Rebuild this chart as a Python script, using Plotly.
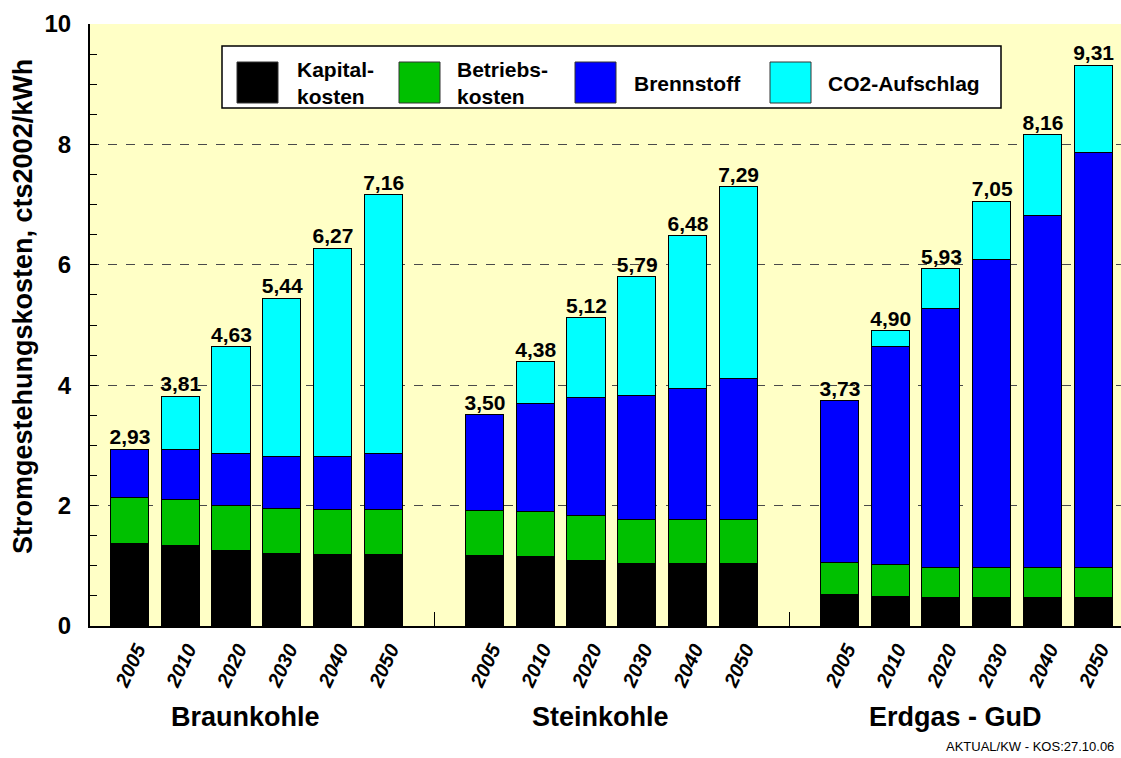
import plotly.graph_objects as go

# Kostenbestandteile der Stromgestehung (cts2002/kWh)
years = ["2005", "2010", "2020", "2030", "2040", "2050"]
groups = ["Braunkohle", "Steinkohle", "Erdgas - GuD"]

kapital = {
    "Braunkohle": [1.36, 1.33, 1.25, 1.20, 1.18, 1.18],
    "Steinkohle": [1.16, 1.14, 1.08, 1.03, 1.03, 1.03],
    "Erdgas - GuD": [0.52, 0.49, 0.46, 0.46, 0.46, 0.46],
}
betrieb = {
    "Braunkohle": [0.77, 0.77, 0.75, 0.75, 0.75, 0.75],
    "Steinkohle": [0.75, 0.75, 0.74, 0.73, 0.73, 0.73],
    "Erdgas - GuD": [0.52, 0.52, 0.51, 0.51, 0.51, 0.51],
}
brennstoff = {
    "Braunkohle": [0.80, 0.82, 0.85, 0.86, 0.88, 0.92],
    "Steinkohle": [1.59, 1.79, 1.96, 2.06, 2.18, 2.35],
    "Erdgas - GuD": [2.69, 3.63, 4.29, 5.11, 5.84, 6.89],
}
co2 = {
    "Braunkohle": [0.00, 0.89, 1.78, 2.63, 3.46, 4.31],
    "Steinkohle": [0.00, 0.70, 1.34, 1.97, 2.54, 3.18],
    "Erdgas - GuD": [0.00, 0.26, 0.67, 0.97, 1.35, 1.45],
}

series = [
    ("Kapital-<br>kosten", kapital, "#000000"),
    ("Betriebs-<br>kosten", betrieb, "#00C000"),
    ("Brennstoff", brennstoff, "#0000FF"),
    ("CO2-Aufschlag", co2, "#00FFFF"),
]

# bar slots: six years per group, one empty slot between groups
slot_step = len(years) + 1
xpos, xlabels = [], []
for gi, g in enumerate(groups):
    for yi, y in enumerate(years):
        xpos.append(gi * slot_step + yi)
        xlabels.append(y)


def flat(d):
    return [v for g in groups for v in d[g]]


FONT = "Liberation Sans, Arial, sans-serif"

fig = go.Figure()
for name, d, color in series:
    fig.add_trace(go.Bar(
        x=xpos, y=flat(d), name=name, width=0.75,
        marker=dict(color=color, line=dict(color="#000000", width=1)),
        showlegend=False,
    ))

totals = [round(sum(vals), 2) for vals in zip(*(flat(d) for _, d, _ in series))]
fig.add_trace(go.Scatter(
    x=xpos, y=totals, mode="text",
    text=[f"{t:.2f}".replace(".", ",") for t in totals],
    textposition="top center",
    textfont=dict(family=FONT, size=21, color="#000000", weight="bold"),
    showlegend=False, hoverinfo="skip", cliponaxis=False,
))

fig.update_layout(
    width=1121, height=758,
    margin=dict(l=90, r=0, t=24, b=132),
    paper_bgcolor="#FFFFFF",
    plot_bgcolor="#FFFFC6",
    barmode="stack",
    bargap=0,
    xaxis=dict(
        range=[-0.79, 19.54],
        tickmode="array", tickvals=xpos, ticktext=xlabels,
        tickangle=-65, ticks="",
        tickfont=dict(family=FONT, size=20, color="#000000", weight="bold",
                      style="italic"),
        ticklabelstandoff=2, ticklabelshift=7,
        showline=True, linecolor="#000000", linewidth=2,
        showgrid=False, zeroline=False,
        minor=dict(tick0=len(years), dtick=slot_step, ticks="inside",
                   ticklen=14, tickcolor="#000000", tickwidth=1, showgrid=False),
    ),
    yaxis=dict(
        range=[0, 10], dtick=2, ticks="inside", ticklen=7,
        tickcolor="#000000", tickwidth=1,
        tickfont=dict(family=FONT, size=24, color="#000000", weight="bold"),
        ticklabelstandoff=12,
        showline=True, linecolor="#000000", linewidth=2,
        showgrid=True, gridcolor="#4A4A4A", griddash="dash", gridwidth=1,
        zeroline=False,
        minor=dict(dtick=0.5, ticks="inside", ticklen=7,
                   tickcolor="#000000", tickwidth=1, showgrid=False),
    ),
)

# layout helpers in page pixels
W, H = 1121.0, 758.0
plot_w, plot_h = W - 90, H - 24 - 132


def px(xp):
    return (xp - 90) / plot_w


def py(yp):
    return (H - 132 - yp) / plot_h


# y-axis title
fig.add_annotation(
    x=px(23), xref="paper", y=py(307), yref="paper",
    text="Stromgestehungskosten, cts2002/kWh", textangle=-90, showarrow=False,
    xanchor="center", yanchor="middle",
    font=dict(family=FONT, size=27, color="#000000", weight="bold"),
)

# group labels under each block of years
for gi, g in enumerate(groups):
    center = gi * slot_step + (len(years) - 1) / 2 - 0.22
    fig.add_annotation(
        x=center, xref="x", y=py(717), yref="paper",
        text=g, showarrow=False, xanchor="center", yanchor="middle",
        font=dict(family=FONT, size=27, color="#000000", weight="bold"),
    )

# legend box
fig.add_shape(type="rect", xref="paper", yref="paper",
              x0=px(222), x1=px(1001), y0=py(108), y1=py(46),
              fillcolor="#FFFFFF", line=dict(color="#000000", width=1.5), layer="above")
legend_items = [(237, 295), (399, 455), (575, 632), (770, 826)]
for (sx, tx), (name, _, color) in zip(legend_items, series):
    fig.add_shape(type="rect", xref="paper", yref="paper",
                  x0=px(sx), x1=px(sx + 41), y0=py(103), y1=py(62),
                  fillcolor=color, line=dict(color="#333333", width=1), layer="above")
    fig.add_annotation(
        x=px(tx), xref="paper", y=py(83), yref="paper",
        text=name, showarrow=False, xanchor="left", yanchor="middle", align="left",
        font=dict(family=FONT, size=21, color="#000000", weight="bold"),
    )

fig.add_annotation(
    x=1.0, xref="paper", y=py(746), yref="paper", xshift=-5,
    text="AKTUAL/KW - KOS:27.10.06", showarrow=False,
    xanchor="right", yanchor="middle",
    font=dict(family=FONT, size=13, color="#000000"),
)

fig.write_html("out.html")
